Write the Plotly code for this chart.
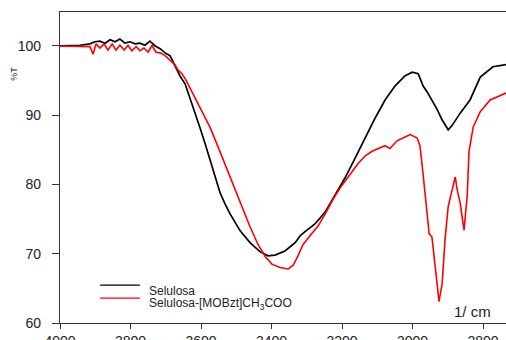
import plotly.graph_objects as go

# Selulosa (black)
wn_black = [4000, 3972, 3943, 3915, 3901, 3887, 3872, 3858, 3844, 3830, 3816, 3801, 3787, 3773,
            3759, 3745, 3730, 3716, 3702, 3688, 3674, 3660, 3645, 3631, 3617, 3603, 3589, 3574,
            3560, 3546, 3532, 3518, 3489, 3461, 3433, 3410, 3390, 3362, 3333, 3319, 3305, 3277,
            3248, 3220, 3191, 3163, 3135, 3106, 3078, 3050, 3021, 3001, 2984, 2970, 2959, 2945,
            2930, 2916, 2899, 2888, 2865, 2837, 2808, 2772, 2735]
t_black = [100.0, 100.0, 100.1, 100.3, 100.6, 100.7, 100.4, 100.9, 100.6, 101.0, 100.4, 100.6,
           100.3, 100.4, 100.1, 100.7, 100.0, 99.6, 99.0, 98.6, 97.1, 95.7, 94.5, 92.5, 90.3,
           88.2, 86.0, 83.5, 81.1, 78.8, 77.2, 75.8, 73.3, 71.6, 70.3, 69.7, 69.8, 70.4, 71.6,
           72.6, 73.2, 74.3, 76.0, 78.4, 81.0, 83.8, 86.7, 89.6, 92.2, 94.2, 95.7, 96.2, 96.0,
           94.2, 93.4, 92.2, 90.8, 89.3, 87.9, 88.5, 90.3, 92.2, 95.5, 97.0, 97.3]

# Selulosa-[MOBzt]CH3COO (red)
wn_red = [4000, 3943, 3915, 3906, 3898, 3887, 3875, 3864, 3852, 3841, 3830, 3818, 3807, 3796,
          3784, 3773, 3762, 3750, 3739, 3728, 3716, 3702, 3688, 3674, 3665, 3654, 3643, 3631,
          3617, 3603, 3574, 3546, 3518, 3489, 3461, 3438, 3418, 3399, 3376, 3353, 3339, 3325,
          3311, 3291, 3268, 3245, 3223, 3200, 3177, 3155, 3135, 3115, 3092, 3078, 3064, 3044,
          3027, 3007, 2987, 2979, 2970, 2959, 2953, 2945, 2939, 2930, 2925, 2916, 2908, 2899,
          2888, 2879, 2874, 2865, 2854, 2845, 2840, 2828, 2808, 2780, 2735]
t_red = [100.0, 100.0, 99.9, 98.8, 100.3, 99.7, 100.3, 99.4, 100.3, 99.4, 100.1, 99.4, 100.1,
         99.3, 99.9, 99.3, 99.7, 99.1, 100.1, 99.1, 99.0, 98.6, 98.0, 97.3, 96.5, 96.0, 95.1,
         93.9, 92.6, 91.3, 88.2, 84.7, 81.1, 77.3, 73.9, 71.3, 69.6, 68.5, 68.0, 67.8, 68.3,
         69.7, 71.3, 72.6, 74.0, 76.0, 78.1, 79.9, 81.5, 83.0, 84.1, 84.8, 85.3, 85.6, 85.2,
         86.3, 86.7, 87.2, 86.7, 85.6, 81.4, 75.6, 72.9, 72.4, 69.7, 65.9, 63.1, 65.7, 72.0,
         76.8, 79.4, 81.1, 79.4, 77.3, 73.4, 78.4, 84.7, 88.3, 90.5, 92.2, 93.2]

x_ticks = [4000, 3800, 3600, 3400, 3200, 3000, 2800]
y_ticks = [60, 70, 80, 90, 100]
series_names = ["Selulosa", "Selulosa-[MOBzt]CH<sub>3</sub>COO"]

FONT = "Arial, Liberation Sans, sans-serif"

fig = go.Figure()
fig.add_trace(go.Scatter(x=wn_black, y=t_black, mode="lines", name=series_names[0],
                         line=dict(color="#000000", width=1.7), showlegend=False))
fig.add_trace(go.Scatter(x=wn_red, y=t_red, mode="lines", name=series_names[1],
                         line=dict(color="#ff0000", width=1.6), showlegend=False))

# manual legend
legend_y = [0.122, 0.080]
text_y = [0.103, 0.062]
colors = ["#000000", "#ff0000"]
for i in range(2):
    fig.add_shape(type="line", xref="paper", yref="paper", x0=0.09, x1=0.179,
                  y0=legend_y[i], y1=legend_y[i], line=dict(color=colors[i], width=1.2))
    fig.add_annotation(xref="paper", yref="paper", x=0.195, y=text_y[i], text=series_names[i],
                       showarrow=False, xanchor="left", yanchor="middle",
                       font=dict(family=FONT, size=12, color="#222"))

fig.add_annotation(xref="paper", yref="paper", x=0.971, y=0.0, yshift=1, text="1/ cm",
                   showarrow=False, xanchor="right", yanchor="bottom",
                   font=dict(family=FONT, size=15, color="#222"))
fig.add_annotation(xref="paper", yref="paper", x=-0.102, y=0.80, text="%T", textangle=-90,
                   showarrow=False, xanchor="center", yanchor="middle",
                   font=dict(family=FONT, size=9, color="#222"))

fig.update_xaxes(range=[4000, 2735], tickvals=x_ticks, ticktext=[str(v) for v in x_ticks],
                 showgrid=False, zeroline=False, showline=True, linecolor="#333", linewidth=1.4,
                 mirror=True, ticks="outside", ticklen=5, tickcolor="#333", ticklabelstandoff=0,
                 automargin=False, tickfont=dict(family=FONT, size=14, color="#222"))
fig.update_yaxes(range=[60, 104.9], tickvals=y_ticks, showgrid=False, zeroline=False,
                 showline=True, linecolor="#333", linewidth=1.4, mirror=True,
                 ticks="outside", ticklen=7, tickcolor="#333", ticklabelstandoff=8,
                 automargin=False, tickfont=dict(family=FONT, size=14, color="#222"))

fig.update_layout(width=506, height=340, margin=dict(l=60, r=0, t=12, b=17),
                  paper_bgcolor="white", plot_bgcolor="white")

fig.write_html("out.html", config={"displayModeBar": False},
               post_script="document.body.style.margin='0';document.body.style.overflow='hidden';")
